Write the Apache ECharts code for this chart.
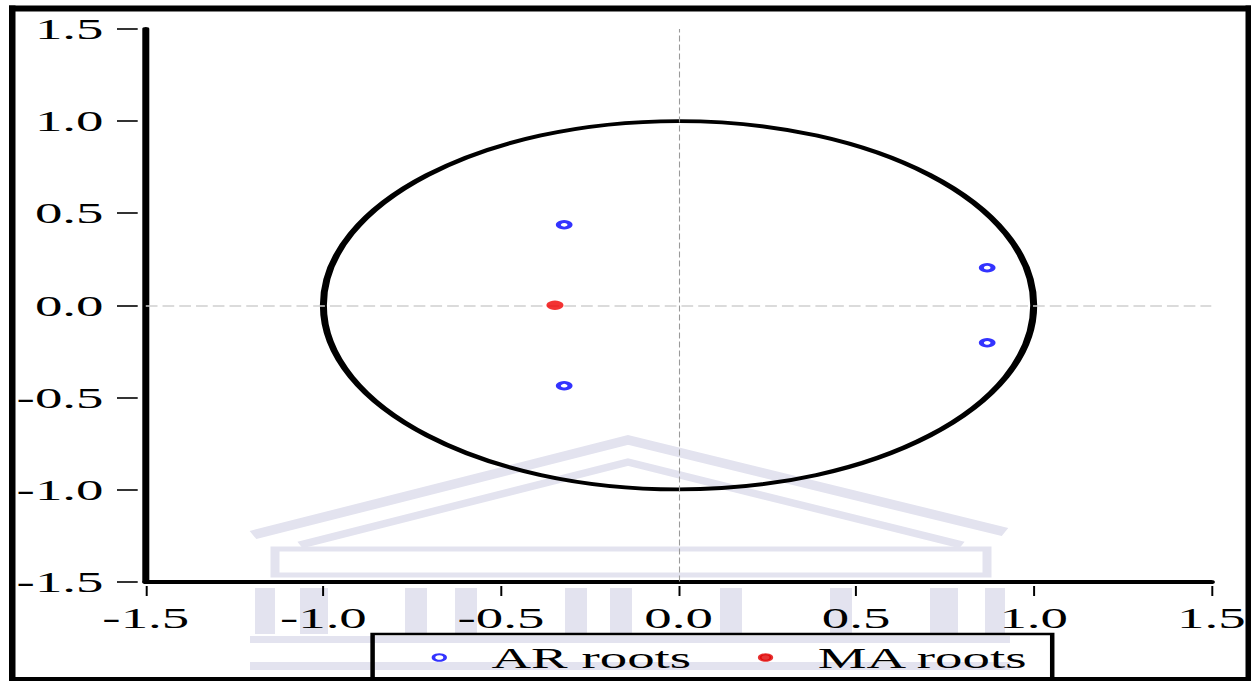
<!DOCTYPE html>
<html>
<head>
<meta charset="utf-8">
<script src="https://cdn.jsdelivr.net/npm/echarts@6/dist/echarts.min.js"></script>
<style>
  html, body { margin: 0; padding: 0; background: #fff; overflow: hidden; }
  #c { width: 695px; height: 681px; transform: scaleX(1.8); transform-origin: 0 0; background: #fff; }
</style>
</head>
<body>
<div id="c"></div>
<script>
// ---- data ----
const tickValues = [-1.5, -1.0, -0.5, 0.0, 0.5, 1.0, 1.5];
const xTickLabels = ['-1.5', '-1.0', '-0.5', '0.0', '0.5', '1.0', '1.5'];
const yTickLabels = ['-1.5', '-1.0', '-0.5', '0.0', '0.5', '1.0', '1.5'];
const arRoots = [[-0.322, 0.437], [-0.322, -0.437], [0.869, 0.204], [0.869, -0.204]];
const maRoots = [[-0.348, 0.0]];
const unitCircle = [[0, 0, 1]]; // centre x, centre y, radius
const legendNames = ['AR roots', 'MA roots'];

// ---- layout helpers (page is drawn at 1/1.8 width and stretched horizontally) ----
const S = 1.8;
const px = v => v / S;

function labelFor(list) {
  return function (v) {
    const i = tickValues.findIndex(t => Math.abs(t - v) < 1e-9);
    return i >= 0 ? list[i] : '';
  };
}

const font = 'Liberation Serif';
const chart = echarts.init(document.getElementById('c'), null, { renderer: 'svg' });

const wm = '#e3e3ef';
const watermark = [
  { type: 'polyline', z: -10, shape: { points: [[px(253), 535], [px(628), 440], [px(1005), 532]] }, style: { stroke: wm, lineWidth: 9, fill: 'none' } },
  { type: 'polyline', z: -10, shape: { points: [[px(300), 545], [px(628), 462], [px(962), 545]] }, style: { stroke: wm, lineWidth: 7, fill: 'none' } },
  { type: 'rect', z: -10, shape: { x: px(275), y: 549, width: px(712), height: 26 }, style: { stroke: wm, lineWidth: 5, fill: 'none' } },
  { type: 'rect', z: -10, shape: { x: px(255), y: 588, width: px(20), height: 46 }, style: { fill: wm } },
  { type: 'rect', z: -10, shape: { x: px(300), y: 588, width: px(28), height: 46 }, style: { fill: wm } },
  { type: 'rect', z: -10, shape: { x: px(405), y: 588, width: px(22), height: 46 }, style: { fill: wm } },
  { type: 'rect', z: -10, shape: { x: px(455), y: 588, width: px(22), height: 46 }, style: { fill: wm } },
  { type: 'rect', z: -10, shape: { x: px(565), y: 588, width: px(22), height: 46 }, style: { fill: wm } },
  { type: 'rect', z: -10, shape: { x: px(610), y: 588, width: px(22), height: 46 }, style: { fill: wm } },
  { type: 'rect', z: -10, shape: { x: px(720), y: 588, width: px(22), height: 46 }, style: { fill: wm } },
  { type: 'rect', z: -10, shape: { x: px(830), y: 588, width: px(22), height: 46 }, style: { fill: wm } },
  { type: 'rect', z: -10, shape: { x: px(930), y: 588, width: px(28), height: 46 }, style: { fill: wm } },
  { type: 'rect', z: -10, shape: { x: px(985), y: 588, width: px(20), height: 46 }, style: { fill: wm } },
  { type: 'rect', z: -10, shape: { x: px(250), y: 636, width: px(760), height: 7 }, style: { fill: wm } },
  { type: 'rect', z: -10, shape: { x: px(250), y: 662, width: px(760), height: 8 }, style: { fill: wm } }
];

const frame = [
  { type: 'rect', z: 100, shape: { x: px(9), y: 5.5, width: px(1242), height: 6 }, style: { fill: '#000' } },
  { type: 'rect', z: 100, shape: { x: px(9), y: 5.5, width: px(6.5), height: 676 }, style: { fill: '#000' } },
  { type: 'rect', z: 100, shape: { x: px(1245.5), y: 5.5, width: px(6), height: 676 }, style: { fill: '#000' } },
  { type: 'rect', z: 100, shape: { x: px(9), y: 677, width: px(1242), height: 4 }, style: { fill: '#000' } }
];

const option = {
  backgroundColor: '#fff',
  animation: false,
  grid: { left: 81, right: 19, top: 29, bottom: 99.5, containLabel: false },
  xAxis: [
    {
      type: 'value', min: -1.5, max: 1.5, interval: 0.5, position: 'bottom',
      axisLine: { show: true, onZero: false, lineStyle: { color: '#000', width: 4 } },
      axisTick: { show: false }, axisLabel: { show: false }, splitLine: { show: false }
    },
    {
      type: 'value', min: -1.5, max: 1.5, interval: 0.5, position: 'bottom', offset: 4.5,
      axisLine: { show: false, onZero: false },
      axisTick: { show: true, length: 10, lineStyle: { color: '#000', width: 1.1 } },
      axisLabel: { margin: 16, fontFamily: font, fontSize: 30.5, color: '#000', showMinLabel: true, showMaxLabel: true, formatter: labelFor(xTickLabels) },
      splitLine: { show: false }
    }
  ],
  yAxis: [
    {
      type: 'value', min: -1.5, max: 1.5, interval: 0.5, position: 'left',
      axisLine: { show: true, onZero: false, lineStyle: { color: '#000', width: 3.9 } },
      axisTick: { show: false }, axisLabel: { show: false }, splitLine: { show: false }
    },
    {
      type: 'value', min: -1.5, max: 1.5, interval: 0.5, position: 'left', offset: 4.5,
      axisLine: { show: false, onZero: false },
      axisTick: { show: true, length: 11.5, lineStyle: { color: '#000', width: 1.6 } },
      axisLabel: { margin: 19, fontFamily: font, fontSize: 30.5, color: '#000', showMinLabel: true, showMaxLabel: true, formatter: labelFor(yTickLabels) },
      splitLine: { show: false }
    }
  ],
  legend: {
    left: 207, top: 634, orient: 'horizontal',
    padding: [8, 12.5, 40, 32.8], itemGap: 37, itemWidth: 48, itemHeight: 6.5,
    borderColor: '#000', borderWidth: 2.5, backgroundColor: 'transparent',
    textStyle: { fontFamily: font, fontSize: 30.5, color: '#000' },
    data: [
      { name: legendNames[0], icon: 'circle', itemStyle: { color: '#fff', borderColor: '#0000ff', borderWidth: 2 } },
      { name: legendNames[1], icon: 'circle', itemStyle: { color: '#e00000', borderColor: '#e00000', borderWidth: 2 } }
    ]
  },
  graphic: watermark.concat(frame),
  series: [
    {
      name: 'unit circle', type: 'custom', xAxisIndex: 0, yAxisIndex: 0, z: 1, silent: true, clip: false,
      data: unitCircle,
      renderItem: function (params, api) {
        const c = api.coord([api.value(0), api.value(1)]);
        const s = api.size([api.value(2), api.value(2)]);
        return {
          type: 'ellipse',
          shape: { cx: c[0], cy: c[1], rx: s[0], ry: s[1] },
          style: { fill: 'none', stroke: '#000', lineWidth: 3.9 }
        };
      },
      markLine: {
        silent: true, symbol: 'none', label: { show: false }, animation: false,
        data: [
          { xAxis: 0, lineStyle: { color: '#9a9a9a', width: 0.6, type: [6, 3] } },
          { yAxis: 0, lineStyle: { color: '#cfcfcf', width: 1.5, type: [6.5, 2.8] } }
        ]
      }
    },
    {
      name: legendNames[0], type: 'scatter', xAxisIndex: 0, yAxisIndex: 0, z: 5,
      symbol: 'circle', symbolSize: 6.5,
      itemStyle: { color: '#fff', borderColor: '#0000ff', borderWidth: 2.8 },
      data: arRoots
    },
    {
      name: legendNames[1], type: 'scatter', xAxisIndex: 0, yAxisIndex: 0, z: 5,
      symbol: 'circle', symbolSize: 9.5,
      itemStyle: { color: '#f00000' },
      data: maRoots
    }
  ]
};
chart.setOption(option);
</script>
</body>
</html>
